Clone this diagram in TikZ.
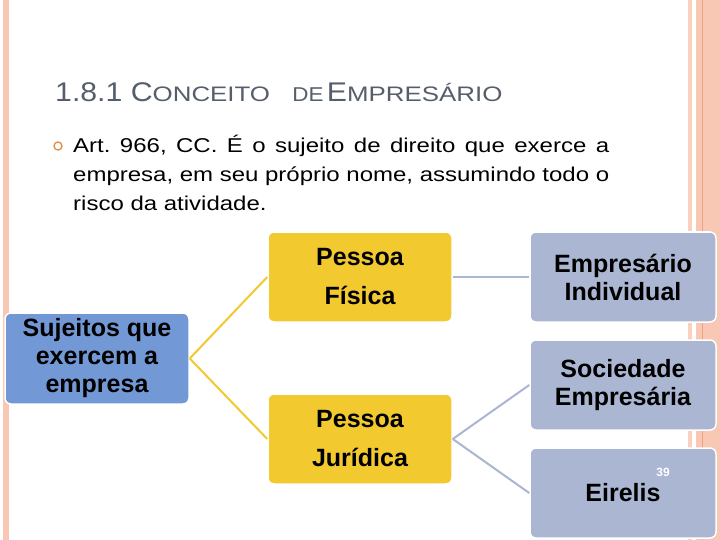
\documentclass[tikz,border=0pt]{standalone}
\usepackage{fontspec}
\setmainfont{Liberation Sans}
\definecolor{slide}     {HTML}{F9C8B4}
\definecolor{slidedark} {HTML}{EBA287}
\definecolor{titlegray} {HTML}{565E6C}
\definecolor{bulletorg} {HTML}{E0914C}
\definecolor{rootblue}  {HTML}{7299D6}
\definecolor{kindyellow}{HTML}{F2CA30}
\definecolor{formgray}  {HTML}{AAB6D2}
\usepackage{tikz}
\tikzset{
  unitbox/.style={rounded corners=6pt,draw=white,line width=1.5pt,
                  minimum width=184pt,minimum height=90pt,inner sep=0pt,
                  align=center,text=black,
                  font=\fontsize{25}{28}\selectfont\bfseries},
  rootbox/.style={unitbox,fill=rootblue,minimum height=91pt},
  kindbox/.style={unitbox,fill=kindyellow,
                  font=\fontsize{25}{39}\selectfont\bfseries},
  formbox/.style={unitbox,fill=formgray,minimum width=186pt},
  tie/.style={line width=2pt,draw=kindyellow},
  tiegray/.style={line width=2pt,draw=formgray}
}
\newcommand{\capbig}[1]{{\fontsize{27}{27}\selectfont #1}}
\newcommand{\capsmall}[1]{\scalebox{1.1}[1]{\fontsize{21}{21}\selectfont #1}}

\begin{document}
\begin{tikzpicture}[x=1pt,y=-1pt]
  \useasboundingbox (0,0) rectangle (720,540);
  % slide frame
  \fill[white] (0,0) rectangle (720,540);
  \fill[slide] (3,0) rectangle (9,540);
  \fill[slide!85] (688,0) rectangle (692,540);
  \fill[slide] (696,0) rectangle (720,540);
  \draw[slidedark,line width=1pt] (702.5,0) -- (702.5,540);

  \node[anchor=base west,inner sep=0pt,text=titlegray] (title) at (55,102)
    {\scalebox{1.12}[1]{\capbig{1.8.1 C}\capsmall{ONCEITO}\hspace{20pt}{\fontsize{20}{20}\selectfont DE}\hspace{3pt}\capbig{E}\capsmall{MPRESÁRIO}}};

  \node[circle,draw=bulletorg,line width=1.4pt,minimum size=8pt,inner sep=0pt] (dot) at (58,146) {};
  \node[anchor=base west,inner sep=0pt] (def) at (73,153)
    {\scalebox{1.2}[1]{\parbox[t]{446.7pt}{\fontsize{20}{29}\selectfont\frenchspacing
     Art. 966, CC. É o sujeito de direito que exerce a\linebreak
     empresa, em seu próprio nome, assumindo todo o\linebreak
     risco da atividade.}}};

  % diagram
  \node[rootbox] (sujeitos) at (97,358.5) {Sujeitos que\\exercem a\\empresa};
  \node[kindbox] (fisica) at (360,277) {Pessoa\\Física};
  \node[kindbox] (juridica) at (360,439) {Pessoa\\Jurídica};
  \node[formbox] (individual) at (623,277) {Empresário\\Individual};
  \node[formbox] (sociedade) at (623,385) {Sociedade\\Empresária};
  \node[formbox] (eirelis) at (623,493) {Eirelis};
  \node[text=white,inner sep=0pt,font=\fontsize{12}{12}\selectfont\bfseries] (pagenum) at (663,472) {39};

  \draw[tie] (sujeitos.east) -- (fisica.west);
  \draw[tie] (sujeitos.east) -- (juridica.west);
  \draw[tiegray] (fisica.east) -- (individual.west);
  \draw[tiegray] (juridica.east) -- (sociedade.west);
  \draw[tiegray] (juridica.east) -- (eirelis.west);
\end{tikzpicture}
\end{document}
